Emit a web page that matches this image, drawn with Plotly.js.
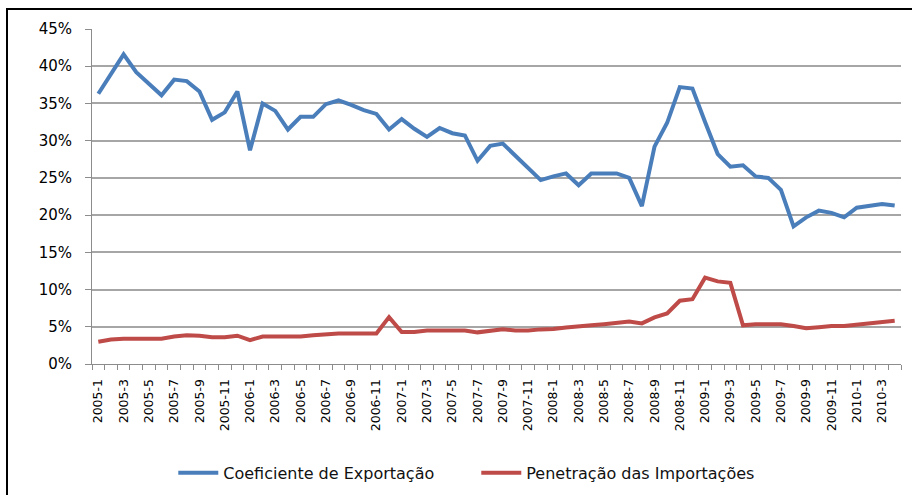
<!DOCTYPE html>
<html>
<head>
<meta charset="utf-8">
<script src="https://cdn.plot.ly/plotly-3.0.1.min.js"></script>
<style>
  html, body { margin: 0; padding: 0; background: #fff; overflow: hidden; }
  #chart { width: 912px; height: 495px; }
  #frame {
    position: absolute; left: 6px; top: 8px; width: 1000px; height: 1000px;
    border-left: 2px solid #000; border-top: 2px solid #000; pointer-events: none;
  }
</style>
</head>
<body>
<div id="chart"></div>
<div id="frame"></div>
<script>
// Monthly periods, 2005-1 .. 2010-4
const months = [
  "2005-1", "2005-2", "2005-3", "2005-4", "2005-5", "2005-6", "2005-7", "2005-8", "2005-9", "2005-10", "2005-11", "2005-12",
  "2006-1", "2006-2", "2006-3", "2006-4", "2006-5", "2006-6", "2006-7", "2006-8", "2006-9", "2006-10", "2006-11", "2006-12",
  "2007-1", "2007-2", "2007-3", "2007-4", "2007-5", "2007-6", "2007-7", "2007-8", "2007-9", "2007-10", "2007-11", "2007-12",
  "2008-1", "2008-2", "2008-3", "2008-4", "2008-5", "2008-6", "2008-7", "2008-8", "2008-9", "2008-10", "2008-11", "2008-12",
  "2009-1", "2009-2", "2009-3", "2009-4", "2009-5", "2009-6", "2009-7", "2009-8", "2009-9", "2009-10", "2009-11", "2009-12",
  "2010-1", "2010-2", "2010-3", "2010-4",
];

// Coeficiente de Exportação (%)
const exportacao = [
  36.3, 39.0, 41.6, 39.2, 37.6, 36.1, 38.2, 38.0, 36.6, 32.8, 33.8, 36.6,
  28.7, 35.0, 34.0, 31.5, 33.2, 33.2, 34.9, 35.4, 34.8, 34.1, 33.6, 31.5,
  32.9, 31.6, 30.5, 31.7, 31.0, 30.7, 27.3, 29.3, 29.6, 28.0, 26.4, 24.7,
  25.2, 25.6, 24.0, 25.6, 25.6, 25.6, 25.0, 21.2, 29.2, 32.4, 37.2, 37.0,
  32.5, 28.2, 26.5, 26.7, 25.2, 25.0, 23.4, 18.5, 19.7, 20.6, 20.3, 19.7,
  21.0, 21.2, 21.5, 21.3,
];

// Penetração das Importações (%)
const importacoes = [
  3.0, 3.3, 3.4, 3.4, 3.4, 3.4, 3.7, 3.85, 3.8, 3.6, 3.6, 3.8,
  3.2, 3.7, 3.7, 3.7, 3.7, 3.85, 4.0, 4.1, 4.1, 4.1, 4.1, 6.3,
  4.3, 4.3, 4.5, 4.5, 4.5, 4.5, 4.25, 4.5, 4.65, 4.5, 4.5, 4.65,
  4.7, 4.9, 5.0, 5.2, 5.35, 5.55, 5.7, 5.45, 6.25, 6.8, 8.5, 8.7,
  11.6, 11.1, 10.9, 5.2, 5.35, 5.35, 5.35, 5.1, 4.8, 4.95, 5.1, 5.1,
  5.3, 5.45, 5.6, 5.8,
];

// only every other month gets a label, every month gets a tick
const tickText = months.map((m, i) => (i % 2 === 0 ? m : ""));

const exportTrace = {
  x: months,
  y: exportacao,
  type: "scatter",
  mode: "lines",
  name: "Coeficiente de Exportação",
  line: { color: "#4a7ebb", width: 4 },
};

const importTrace = {
  x: months,
  y: importacoes,
  type: "scatter",
  mode: "lines",
  name: "Penetração das Importações",
  line: { color: "#be4b48", width: 4 },
};

const layout = {
  width: 912,
  height: 495,
  margin: { l: 92, r: 11, t: 29, b: 131 },
  paper_bgcolor: "#fff",
  plot_bgcolor: "#fff",
  font: { family: "DejaVu Sans", size: 14, color: "#000" },
  showlegend: true,
  legend: {
    orientation: "h",
    xref: "container",
    x: 0.19,
    xanchor: "left",
    yref: "container",
    y: 0.045,
    yanchor: "middle",
    font: { family: "DejaVu Sans", size: 16, color: "#111" },
    itemwidth: 40,
    entrywidth: 248,
    entrywidthmode: "pixels",
  },
  xaxis: {
    type: "category",
    tickmode: "array",
    tickvals: months,
    ticktext: tickText,
    tickson: "boundaries",
    tickangle: -90,
    ticks: "outside",
    ticklen: 5,
    tickcolor: "#8c8c8c",
    tickfont: { family: "DejaVu Sans", size: 12.5, color: "#000" },
    ticklabelstandoff: 9,
    showgrid: false,
    showline: true,
    linecolor: "#8c8c8c",
    linewidth: 1,
    zeroline: false,
    range: [-0.5, months.length - 0.5],
    automargin: false,
  },
  yaxis: {
    range: [0, 45],
    dtick: 5,
    ticksuffix: "%",
    ticks: "outside",
    ticklen: 6,
    tickcolor: "#8c8c8c",
    tickfont: { family: "DejaVu Sans", size: 15, color: "#000" },
    ticklabelstandoff: 10,
    showgrid: true,
    gridcolor: "#a6a6a6",
    gridwidth: 1.5,
    showline: true,
    linecolor: "#8c8c8c",
    linewidth: 1,
    zeroline: false,
    automargin: false,
  },
};

Plotly.newPlot("chart", [exportTrace, importTrace], layout, { displayModeBar: false });
</script>
</body>
</html>
